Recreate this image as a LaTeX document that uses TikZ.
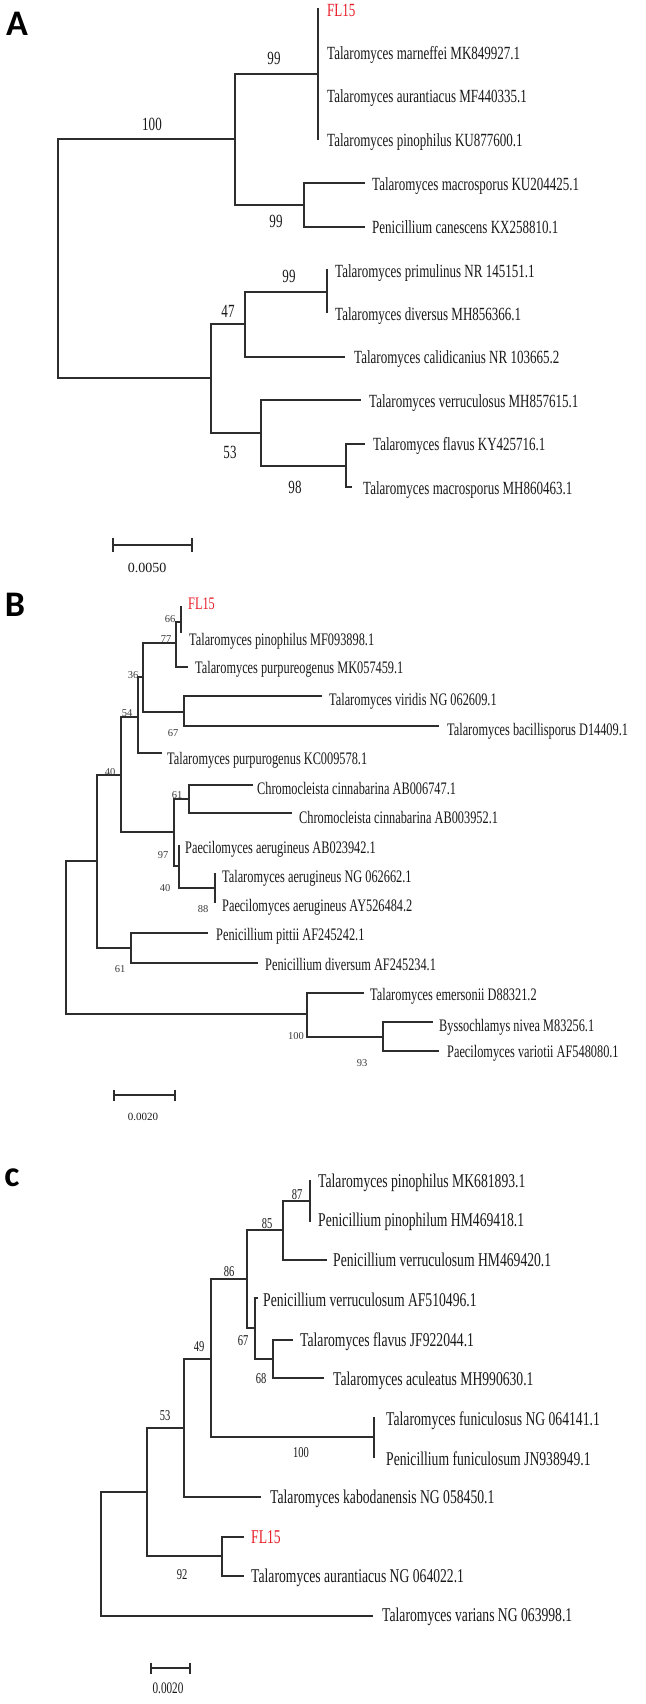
\documentclass[tikz,border=0pt]{standalone}
\usepackage{fontspec}
\setmainfont{Liberation Serif}
\newfontfamily\cond[FakeStretch=0.7]{Liberation Serif}
\newfontfamily\panelf{Carlito}
\definecolor{flred}{RGB}{232,30,40}
\definecolor{ln}{RGB}{45,45,45}
\definecolor{tx}{RGB}{25,25,25}
\tikzset{
  br/.style={draw=ln, line width=1.3pt},
  tipA/.style={anchor=mid west, inner sep=0pt, text=tx, font=\cond\fontsize{18.6}{20}\selectfont},
  tipB/.style={anchor=mid west, inner sep=0pt, text=tx, font=\cond\fontsize{17.6}{19}\selectfont},
  tipC/.style={anchor=mid west, inner sep=0pt, text=tx, font=\cond\fontsize{19.5}{21}\selectfont},
  bsA/.style={inner sep=0pt, text=tx, font=\cond\fontsize{18.6}{20}\selectfont},
  bsB/.style={inner sep=0pt, text=tx!85, font=\fontsize{10.5}{12}\selectfont},
  bsC/.style={inner sep=0pt, text=tx, font=\cond\fontsize{15}{17}\selectfont},
  fl/.style={text=flred},
  panel/.style={inner sep=0pt, text=black, font=\panelf\bfseries\fontsize{36}{40}\selectfont},
  tick/.style={draw=ln, line width=1.3pt}
}
\begin{document}
\begin{tikzpicture}[x=1pt,y=-1pt]
\useasboundingbox[fill=white] (0,0) rectangle (645,1704);

% ================= Panel A =================
\node[panel] (pA) at (17,23.5) {A};
\coordinate (aR) at (58,258);
\coordinate (aN1) at (235,139);
\coordinate (aN2) at (318,74);
\coordinate (aN3) at (304,205);
\coordinate (aN5) at (211,378);
\coordinate (aN6) at (245,324);
\coordinate (aN7) at (327,292);
\coordinate (aN8) at (261,433);
\coordinate (aN9) at (346,466);
\coordinate (a1) at (318,8);
\coordinate (a4) at (318,140);
\coordinate (a5) at (365,183);
\coordinate (a6) at (365,227);
\coordinate (a7) at (327,269);
\coordinate (a8) at (327,313);
\coordinate (a9) at (345,357);
\coordinate (a10) at (361,400);
\coordinate (a11) at (365,444);
\coordinate (a12) at (352,487);
\foreach \p/\c in {aR/aN1,aR/aN5,aN1/aN2,aN1/aN3,aN2/a1,aN2/a4,aN3/a5,aN3/a6,
  aN5/aN6,aN5/aN8,aN6/aN7,aN6/a9,aN7/a7,aN7/a8,aN8/a10,aN8/aN9,aN9/a11,aN9/a12}
  \draw[br] (\p) |- (\c);

\node[tipA,fl] (la1) at (327,14) {FL15};
\node[tipA] (la2) at (327,57) {Talaromyces marneffei MK849927.1};
\node[tipA] (la3) at (327,100) {Talaromyces aurantiacus MF440335.1};
\node[tipA] (la4) at (327,144) {Talaromyces pinophilus KU877600.1};
\node[tipA] (la5) at (372,188) {Talaromyces macrosporus KU204425.1};
\node[tipA] (la6) at (372,231) {Penicillium canescens KX258810.1};
\node[tipA] (la7) at (335,275) {Talaromyces primulinus NR 145151.1};
\node[tipA] (la8) at (335,318) {Talaromyces diversus MH856366.1};
\node[tipA] (la9) at (354,361) {Talaromyces calidicanius NR 103665.2};
\node[tipA] (la10) at (369,405) {Talaromyces verruculosus MH857615.1};
\node[tipA] (la11) at (373,448) {Talaromyces flavus KY425716.1};
\node[tipA] (la12) at (363,492) {Talaromyces macrosporus MH860463.1};

\node[bsA] (ba1) at (274,58) {99};
\node[bsA] (ba2) at (152,124) {100};
\node[bsA] (ba3) at (276,221) {99};
\node[bsA] (ba4) at (289,276) {99};
\node[bsA] (ba5) at (228,311) {47};
\node[bsA] (ba6) at (230,452) {53};
\node[bsA] (ba7) at (295,487) {98};

\coordinate (sa1) at (113,545);
\coordinate (sa2) at (192,545);
\draw[br] (sa1) -- (sa2);
\draw[tick] ([yshift=7pt]sa1) -- ([yshift=-7pt]sa1);
\draw[tick] ([yshift=7pt]sa2) -- ([yshift=-7pt]sa2);
\node[inner sep=0pt, text=tx, font=\fontsize{14}{16}\selectfont] (sla) at (147,568) {0.0050};

% ================= Panel B =================
\node[panel] (pB) at (15,605) {B};
\coordinate (bR) at (66,937.5);
\coordinate (b97) at (97,861);
\coordinate (b121) at (121,775);
\coordinate (b138) at (138,717);
\coordinate (b143) at (143,677);
\coordinate (b176) at (176,643);
\coordinate (b181) at (181,622);
\coordinate (b184) at (184,712);
\coordinate (bX) at (174,832);
\coordinate (bC) at (189,799);
\coordinate (b97b) at (179,866);
\coordinate (b40b) at (215,888);
\coordinate (bP) at (131,948);
\coordinate (bE) at (307,1014);
\coordinate (bB) at (383,1037);
\coordinate (b1) at (181,606);
\coordinate (b2) at (181,633);
\coordinate (b3) at (188,667);
\coordinate (b4) at (322,696);
\coordinate (b5) at (439,726);
\coordinate (b6) at (162,753);
\coordinate (b7) at (253,785);
\coordinate (b8) at (292,813);
\coordinate (b9) at (179,845);
\coordinate (b10) at (215,873);
\coordinate (b11) at (215,903);
\coordinate (b12) at (208,933);
\coordinate (b13) at (258,963);
\coordinate (b14) at (364,993);
\coordinate (b15) at (433,1022);
\coordinate (b16) at (439,1051);
\foreach \p/\c in {bR/b97,bR/bE,b97/b121,b97/bP,b121/b138,b121/bX,b138/b143,b138/b6,
  b143/b176,b143/b184,b176/b181,b176/b3,b181/b1,b181/b2,b184/b4,b184/b5,
  bX/bC,bX/b97b,bC/b7,bC/b8,b97b/b9,b97b/b40b,b40b/b10,b40b/b11,
  bP/b12,bP/b13,bE/b14,bE/bB,bB/b15,bB/b16}
  \draw[br] (\p) |- (\c);

\node[tipB,fl] (lb1) at (188,607) {FL15};
\node[tipB] (lb2) at (189,643) {Talaromyces pinophilus MF093898.1};
\node[tipB] (lb3) at (195,671) {Talaromyces purpureogenus MK057459.1};
\node[tipB] (lb4) at (329,703) {Talaromyces viridis NG 062609.1};
\node[tipB] (lb5) at (447,733) {Talaromyces bacillisporus D14409.1};
\node[tipB] (lb6) at (167,762) {Talaromyces purpurogenus KC009578.1};
\node[tipB] (lb7) at (257,792) {Chromocleista cinnabarina AB006747.1};
\node[tipB] (lb8) at (299,821) {Chromocleista cinnabarina AB003952.1};
\node[tipB] (lb9) at (185,851) {Paecilomyces aerugineus AB023942.1};
\node[tipB] (lb10) at (222,880) {Talaromyces aerugineus NG 062662.1};
\node[tipB] (lb11) at (222,909) {Paecilomyces aerugineus AY526484.2};
\node[tipB] (lb12) at (216,938) {Penicillium pittii AF245242.1};
\node[tipB] (lb13) at (265,968) {Penicillium diversum AF245234.1};
\node[tipB] (lb14) at (370,998) {Talaromyces emersonii D88321.2};
\node[tipB] (lb15) at (439,1029) {Byssochlamys nivea M83256.1};
\node[tipB] (lb16) at (447,1055) {Paecilomyces variotii AF548080.1};

\node[bsB] (bb1) at (170,619) {66};
\node[bsB] (bb2) at (166,639) {77};
\node[bsB] (bb3) at (133,675) {36};
\node[bsB] (bb4) at (127,713) {54};
\node[bsB] (bb5) at (173,733) {67};
\node[bsB] (bb6) at (110,772) {40};
\node[bsB] (bb7) at (177,795) {61};
\node[bsB] (bb8) at (163,855) {97};
\node[bsB] (bb9) at (165,888) {40};
\node[bsB] (bb10) at (203,909) {88};
\node[bsB] (bb11) at (120,969) {61};
\node[bsB] (bb12) at (296,1036) {100};
\node[bsB] (bb13) at (362,1063) {93};

\coordinate (sb1) at (114,1095);
\coordinate (sb2) at (175,1095);
\draw[br] (sb1) -- (sb2);
\draw[tick] ([yshift=5.5pt]sb1) -- ([yshift=-5.5pt]sb1);
\draw[tick] ([yshift=5.5pt]sb2) -- ([yshift=-5.5pt]sb2);
\node[inner sep=0pt, text=tx, font=\fontsize{11}{13}\selectfont] (slb) at (143,1117) {0.0020};

% ================= Panel C =================
\node[panel] (pC) at (12,1178) {c};
\coordinate (cR) at (101,1554);
\coordinate (c147) at (147,1492);
\coordinate (c184) at (184,1428);
\coordinate (c211) at (211,1359);
\coordinate (c247) at (247,1279);
\coordinate (c283) at (283,1230);
\coordinate (c310) at (310,1201);
\coordinate (c255) at (255,1328);
\coordinate (c273) at (273,1359);
\coordinate (c374) at (374,1437);
\coordinate (c222) at (222,1556);
\coordinate (c1) at (310,1180);
\coordinate (c2) at (310,1222);
\coordinate (c3) at (327,1260);
\coordinate (c4) at (258,1298);
\coordinate (c5) at (293,1340);
\coordinate (c6) at (324,1378);
\coordinate (c7) at (374,1417);
\coordinate (c8) at (374,1458);
\coordinate (c9) at (261,1497);
\coordinate (c10) at (244,1537);
\coordinate (c11) at (244,1576);
\coordinate (c12) at (373,1616);
\foreach \p/\c in {cR/c147,cR/c12,c147/c184,c147/c222,c184/c211,c184/c9,
  c211/c247,c211/c374,c247/c283,c247/c255,c283/c310,c283/c3,c310/c1,c310/c2,
  c255/c4,c255/c273,c273/c5,c273/c6,c374/c7,c374/c8,c222/c10,c222/c11}
  \draw[br] (\p) |- (\c);

\node[tipC] (lc1) at (318,1185) {Talaromyces pinophilus MK681893.1};
\node[tipC] (lc2) at (318,1224) {Penicillium pinophilum HM469418.1};
\node[tipC] (lc3) at (333,1264) {Penicillium verruculosum HM469420.1};
\node[tipC] (lc4) at (263,1304) {Penicillium verruculosum AF510496.1};
\node[tipC] (lc5) at (300,1344) {Talaromyces flavus JF922044.1};
\node[tipC] (lc6) at (333,1383) {Talaromyces aculeatus MH990630.1};
\node[tipC] (lc7) at (386,1423) {Talaromyces funiculosus NG 064141.1};
\node[tipC] (lc8) at (386,1463) {Penicillium funiculosum JN938949.1};
\node[tipC] (lc9) at (270,1501) {Talaromyces kabodanensis NG 058450.1};
\node[tipC,fl] (lc10) at (251,1541) {FL15};
\node[tipC] (lc11) at (251,1580) {Talaromyces aurantiacus NG 064022.1};
\node[tipC] (lc12) at (382,1619) {Talaromyces varians NG 063998.1};

\node[bsC] (bc1) at (297,1195) {87};
\node[bsC] (bc2) at (267,1224) {85};
\node[bsC] (bc3) at (229,1272) {86};
\node[bsC] (bc4) at (243,1341) {67};
\node[bsC] (bc5) at (261,1379) {68};
\node[bsC] (bc6) at (199,1347) {49};
\node[bsC] (bc7) at (165,1416) {53};
\node[bsC] (bc8) at (301,1453) {100};
\node[bsC] (bc9) at (182,1575) {92};

\coordinate (sc1) at (151,1668);
\coordinate (sc2) at (190,1668);
\draw[br] (sc1) -- (sc2);
\draw[tick] ([yshift=5.5pt]sc1) -- ([yshift=-5.5pt]sc1);
\draw[tick] ([yshift=5.5pt]sc2) -- ([yshift=-5.5pt]sc2);
\node[inner sep=0pt, text=tx, font=\cond\fontsize{16}{18}\selectfont] (slc) at (168,1688) {0.0020};
\end{tikzpicture}
\end{document}
